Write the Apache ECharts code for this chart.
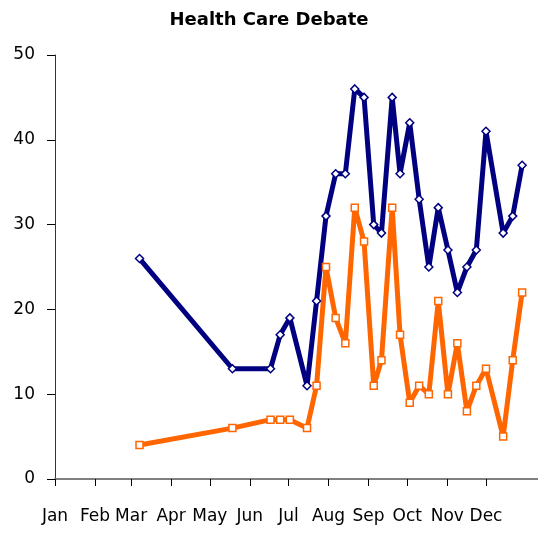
<!DOCTYPE html>
<html><head><meta charset="utf-8">
<script src="https://cdn.jsdelivr.net/npm/echarts@6/dist/echarts.min.js"></script>
<style>html,body{margin:0;padding:0;background:#fff}#c{width:538px;height:533px}</style>
</head><body><div id="c"></div>
<script>
// Day of year (0 = Jan 1) for each observation
const days = [65.5, 137.5, 167, 174.5, 182, 195.3, 202.7, 210, 217.5, 225, 232.3, 239.5, 247, 253, 261.3, 267.4, 274.9, 282.2, 289.7, 297, 304.5, 311.8, 319.2, 326.5, 334, 347.3, 354.7, 362];
const navySeries = [26, 13, 13, 17, 19, 11, 21, 31, 36, 36, 46, 45, 30, 29, 45, 36, 42, 33, 25, 32, 27, 22, 25, 27, 41, 29, 31, 37];
const orangeSeries = [4, 6, 7, 7, 7, 6, 11, 25, 19, 16, 32, 28, 11, 14, 32, 17, 9, 11, 10, 21, 10, 16, 8, 11, 13, 5, 14, 22];
const monthNames = ['Jan','Feb','Mar','Apr','May','Jun','Jul','Aug','Sep','Oct','Nov','Dec'];
const monthStarts = [0, 31, 59, 90, 120, 151, 181, 212, 243, 273, 304, 334];

const chart = echarts.init(document.getElementById('c'), null, {renderer: 'canvas'});
const font = 'DejaVu Sans';
chart.setOption({
  animation: false,
  title: {
    text: 'Health Care Debate', left: 'center', top: 6,
    textStyle: {fontFamily: font, fontSize: 18, fontWeight: 'bold', color: '#000'}
  },
  grid: {left: 55, right: 0, top: 55, bottom: 54, containLabel: false},
  xAxis: {
    type: 'value', min: 0, max: 374.3,
    splitLine: {show: false},
    axisLine: {show: true, lineStyle: {color: '#808080', width: 2}},
    axisTick: {show: true, customValues: monthStarts, length: 7, lineStyle: {color: '#000', width: 1}},
    axisLabel: {
      customValues: monthStarts, margin: 29,
      fontFamily: font, fontSize: 17, color: '#000',
      formatter: v => monthNames[monthStarts.indexOf(v)] || ''
    }
  },
  yAxis: {
    type: 'value', min: 0, max: 50, interval: 10,
    splitLine: {show: false},
    axisLine: {show: true, lineStyle: {color: '#333', width: 1}},
    axisTick: {show: true, length: 8, lineStyle: {color: '#000'}},
    axisLabel: {margin: 20, fontFamily: font, fontSize: 17, color: '#000'}
  },
  series: [
    {
      type: 'line', name: 'A',
      data: days.map((d, i) => [d, navySeries[i]]),
      symbol: 'diamond', symbolSize: 8,
      lineStyle: {color: '#000080', width: 5},
      itemStyle: {color: '#fff', borderColor: '#000080', borderWidth: 1.5}
    },
    {
      type: 'line', name: 'B',
      data: days.map((d, i) => [d, orangeSeries[i]]),
      symbol: 'rect', symbolSize: 7,
      lineStyle: {color: '#FF6600', width: 5},
      itemStyle: {color: '#fff', borderColor: '#FF6600', borderWidth: 1.5}
    }
  ]
});
</script>
</body></html>
